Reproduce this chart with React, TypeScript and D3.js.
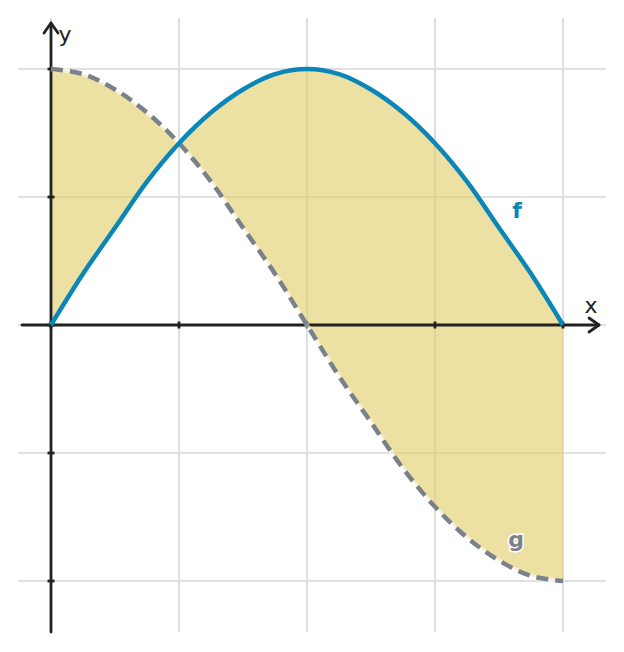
import { useRef, useEffect } from "react";
import * as d3 from "d3";

const WIDTH = 624;
const HEIGHT = 652;

// x positions in units of pi
const X_SAMPLES = [0, 0.0625, 0.125, 0.1875, 0.25, 0.3125, 0.375, 0.4375, 0.5, 0.5625, 0.625, 0.6875, 0.75, 0.8125, 0.875, 0.9375, 1];
const F_VALUES = [0, 0.2, 0.38, 0.56, 0.71, 0.83, 0.92, 0.98, 1, 0.98, 0.92, 0.83, 0.71, 0.56, 0.38, 0.2, 0];
const G_VALUES = [1, 0.98, 0.92, 0.83, 0.71, 0.56, 0.38, 0.2, 0, -0.2, -0.38, -0.56, -0.71, -0.83, -0.92, -0.98, -1];

const X_TICKS = [0, 0.25, 0.5, 0.75, 1];
const Y_TICKS = [-1, -0.5, 0, 0.5, 1];

const BLUE = "#0a86b8";
const GRAY = "#7a8189";
const FILL = "#dfcb64";
const GRID = "#d6d6d6";
const AXIS = "#222222";

export default function App() {
  const svgRef = useRef<SVGSVGElement>(null);

  useEffect(() => {
    document.body.style.margin = "0";
    const svg = d3.select(svgRef.current);
    svg.selectAll("*").remove();

    const x = d3.scaleLinear().domain([0, 1]).range([51, 563]);
    const y = d3.scaleLinear().domain([-1, 1]).range([581, 69]);

    const xMin = x.invert(18), xMax = x.invert(606);
    const yMin = y.invert(632), yMax = y.invert(18);

    const pts = X_SAMPLES.map((v, i) => ({ x: v, f: F_VALUES[i], g: G_VALUES[i] }));

    // grid
    const grid = svg.append("g").attr("stroke", GRID).attr("stroke-width", 1.6);
    grid.selectAll("line.v").data(X_TICKS).enter().append("line")
      .attr("x1", d => x(d)).attr("x2", d => x(d))
      .attr("y1", y(yMin)).attr("y2", y(yMax));
    grid.selectAll("line.h").data(Y_TICKS).enter().append("line")
      .attr("y1", d => y(d)).attr("y2", d => y(d))
      .attr("x1", x(xMin)).attr("x2", x(xMax));

    // area between f and g (translucent, grid shows through)
    const area = d3.area<any>()
      .x(d => x(d.x))
      .y0(d => y(d.g))
      .y1(d => y(d.f))
      .curve(d3.curveCatmullRom);
    svg.append("path").attr("d", area(pts)).attr("fill", FILL).attr("fill-opacity", 0.6);

    // axes
    const ax = svg.append("g").attr("stroke", AXIS).attr("fill", "none")
      .attr("stroke-width", 2.8).attr("stroke-linecap", "round").attr("stroke-linejoin", "round");
    ax.append("line").attr("x1", x(xMin) + 4).attr("x2", 599).attr("y1", y(0)).attr("y2", y(0));
    ax.append("line").attr("x1", x(0)).attr("x2", x(0)).attr("y1", y(yMin)).attr("y2", 23);
    ax.append("path").attr("d", `M${599 - 10},${y(0) - 7}L599,${y(0)}L${599 - 10},${y(0) + 7}`);
    ax.append("path").attr("d", `M${x(0) - 7},${23 + 10}L${x(0)},23L${x(0) + 7},${23 + 10}`);

    // ticks
    ax.selectAll("line.tx").data(X_TICKS).enter().append("line")
      .attr("x1", d => x(d)).attr("x2", d => x(d))
      .attr("y1", y(0) - 3.5).attr("y2", y(0) + 3.5).attr("stroke-linecap", "butt");
    ax.selectAll("line.ty").data(Y_TICKS).enter().append("line")
      .attr("y1", d => y(d)).attr("y2", d => y(d))
      .attr("x1", x(0) - 3.5).attr("x2", x(0) + 3.5).attr("stroke-linecap", "butt");

    // curves
    const line = (key: "f" | "g") => d3.line<any>()
      .x(d => x(d.x)).y(d => y(d[key])).curve(d3.curveCatmullRom)(pts);

    svg.append("path").attr("d", line("g")).attr("fill", "none")
      .attr("stroke", "#fff").attr("stroke-opacity", 0.5).attr("stroke-width", 4.5);
    svg.append("path").attr("d", line("g")).attr("fill", "none")
      .attr("stroke", GRAY).attr("stroke-width", 4.5).attr("stroke-dasharray", "12,7");
    svg.append("path").attr("d", line("f")).attr("fill", "none")
      .attr("stroke", BLUE).attr("stroke-width", 4.5);

    const font = "'DejaVu Sans', sans-serif";

    // axis labels
    svg.append("text").text("x").attr("x", 591).attr("y", 313)
      .attr("text-anchor", "middle").attr("font-family", font).attr("font-size", 22).attr("fill", AXIS);
    svg.append("text").text("y").attr("x", 65).attr("y", 42)
      .attr("text-anchor", "middle").attr("font-family", font).attr("font-size", 22).attr("fill", AXIS);

    // curve labels
    svg.append("text").text("f").attr("x", 517).attr("y", 218)
      .attr("text-anchor", "middle").attr("font-family", font).attr("font-weight", "bold")
      .attr("font-size", 22).attr("fill", BLUE)
      .attr("stroke", "#fff").attr("stroke-width", 3).attr("paint-order", "stroke");
    svg.append("text").text("g").attr("x", 516).attr("y", 547)
      .attr("text-anchor", "middle").attr("font-family", font).attr("font-weight", "bold")
      .attr("font-size", 22).attr("fill", GRAY)
      .attr("stroke", "#fff").attr("stroke-width", 3).attr("paint-order", "stroke");
  }, []);

  return (
    <svg ref={svgRef} width={WIDTH} height={HEIGHT}
      style={{ position: "absolute", left: 0, top: 0, background: "#fff" }} />
  );
}
